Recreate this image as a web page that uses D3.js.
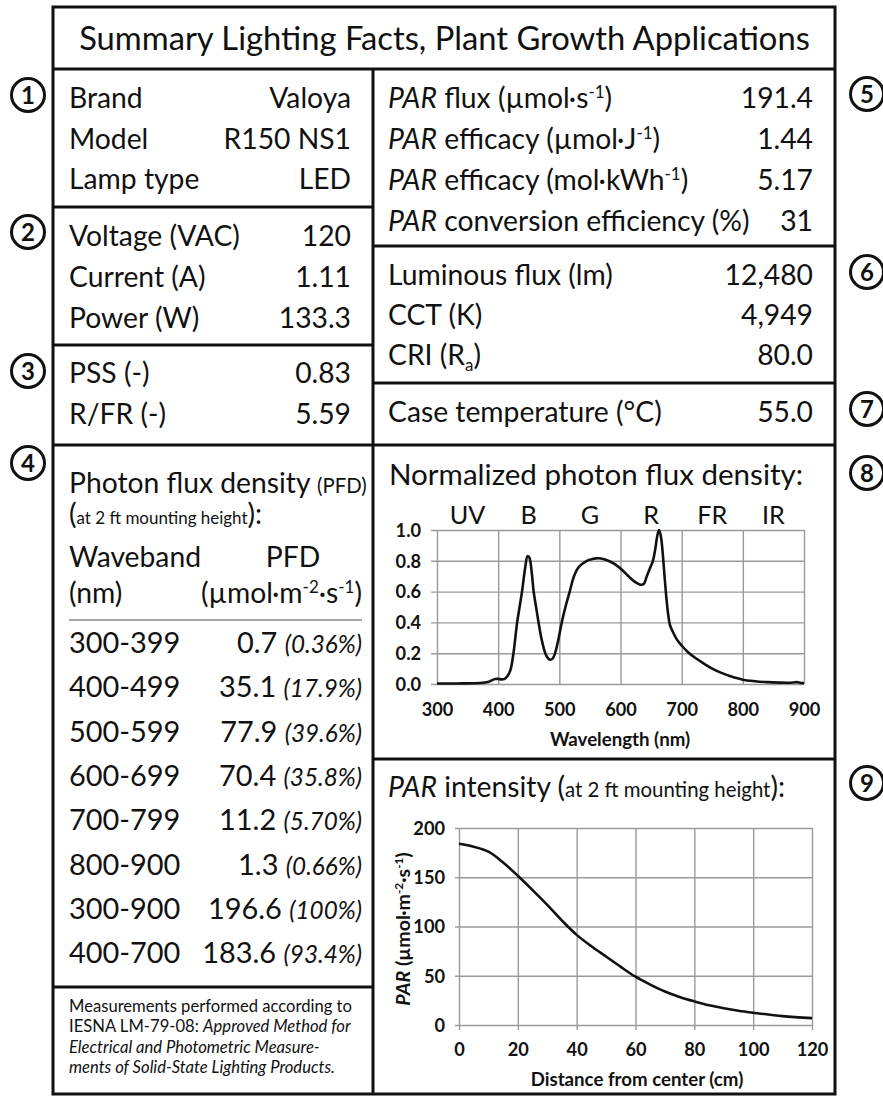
<!DOCTYPE html>
<html><head><meta charset="utf-8">
<script src="https://cdn.jsdelivr.net/npm/d3@7"></script>
<style>
body{margin:0;background:#fff}
svg{display:block}
text{font-family:Lato,'Open Sans',sans-serif;fill:#111}
</style>
</head><body><div id="chart"></div>
<script>
// ---------------- DATA ----------------
const titleText = "Summary Lighting Facts, Plant Growth Applications";
const sec1Labels = ["Brand", "Model", "Lamp type"];
const sec1Values = ["Valoya", "R150 NS1", "LED"];
const sec2Labels = ["Voltage (VAC)", "Current (A)", "Power (W)"];
const sec2Values = ["120", "1.11", "133.3"];
const sec3Labels = ["PSS (-)", "R/FR (-)"];
const sec3Values = ["0.83", "5.59"];
const sec5Labels = ["<i>PAR</i> flux (µmol·s<sup>-1</sup>)", "<i>PAR</i> efficacy (µmol·J<sup>-1</sup>)",
                    "<i>PAR</i> efficacy (mol·kWh<sup>-1</sup>)", "<i>PAR</i> conversion efficiency (%)"];
const sec5Values = ["191.4", "1.44", "5.17", "31"];
const sec6Labels = ["Luminous flux (lm)", "CCT (K)", "CRI (R<sub>a</sub>)"];
const sec6Values = ["12,480", "4,949", "80.0"];
const sec7Labels = ["Case temperature (°C)"];
const sec7Values = ["55.0"];
const wavebands = ["300-399", "400-499", "500-599", "600-699", "700-799", "800-900", "300-900", "400-700"];
const pfdValues = ["0.7", "35.1", "77.9", "70.4", "11.2", "1.3", "196.6", "183.6"];
const pfdPercents = ["(0.36%)", "(17.9%)", "(39.6%)", "(35.8%)", "(5.70%)", "(0.66%)", "(100%)", "(93.4%)"];
const footnoteLines = ["Measurements performed according to",
  "IESNA LM-79-08: <i>Approved Method for</i>",
  "<i>Electrical and Photometric Measure-</i>",
  "<i>ments of Solid-State Lighting Products.</i>"];
const circleNumbers = ["1", "2", "3", "4", "5", "6", "7", "8", "9"];

const bandLabels = ["UV", "B", "G", "R", "FR", "IR"];
const bandCenters = [350, 450, 550, 650, 750, 850];
const specTicksX = [300, 400, 500, 600, 700, 800, 900];
const specTicksY = [0, 0.2, 0.4, 0.6, 0.8, 1.0];
const specWavelength = [
  300, 320, 340, 360, 375, 385, 390, 395, 400, 405,
  410, 415, 420, 425, 431, 435, 439, 444, 448, 451,
  455, 458, 462, 466, 471, 477, 481, 485, 489, 493,
  498, 504, 510, 517, 524, 532, 545, 553, 560, 568,
  580, 590, 600, 613, 623, 633, 638, 643, 648, 653,
  657, 660, 663, 666, 669, 672, 675, 678, 681, 686,
  692, 700, 710, 722, 735, 750, 765, 780, 800, 820,
  840, 860, 875, 883, 888, 895, 900];
const specValue = [
  0.003, 0.003, 0.004, 0.005, 0.008, 0.015, 0.025, 0.032, 0.033, 0.030,
  0.032, 0.050, 0.090, 0.200, 0.400, 0.500, 0.600, 0.750, 0.830, 0.820,
  0.720, 0.600, 0.500, 0.400, 0.290, 0.200, 0.170, 0.158, 0.165, 0.200,
  0.280, 0.400, 0.500, 0.600, 0.700, 0.760, 0.800, 0.810, 0.816, 0.815,
  0.800, 0.780, 0.750, 0.700, 0.665, 0.645, 0.650, 0.700, 0.750, 0.800,
  0.880, 0.960, 1.000, 0.960, 0.850, 0.700, 0.560, 0.450, 0.380, 0.335,
  0.290, 0.250, 0.208, 0.170, 0.136, 0.100, 0.072, 0.050, 0.028, 0.018,
  0.012, 0.009, 0.008, 0.010, 0.012, 0.007, 0.006];

const parTicksX = [0, 20, 40, 60, 80, 100, 120];
const parTicksY = [0, 50, 100, 150, 200];
const parDistance = [0, 5, 10, 15, 20, 25, 30, 35, 40, 45, 50, 55, 60, 65, 70, 75, 80, 85, 90, 95, 100, 110, 120];
const parValue = [184, 181, 176, 165, 151.5, 137, 122, 106, 91.5, 80, 69.5, 59, 49, 41, 34, 28.5, 24, 20, 17, 14.5, 12.5, 9, 7];

// ---------------- RENDER ----------------
const W = 883, H = 1098;
const svg = d3.select("#chart").append("svg").attr("width", W).attr("height", H);

function measure(str, size, weight) {
  const t = svg.append("text").attr("font-size", size).attr("font-weight", weight || "normal").text(str);
  const w = t.node().getComputedTextLength();
  t.remove();
  return w;
}
const K = (171 / measure("Voltage (VAC)", 100)) * 100 / 30.3;
const fs = c => c * K;

function rich(sel, str, size, smF) {
  smF = smF || 0.72;
  const parts = str.split(/(<\/?(?:i|sup|sub|sm)>)/).filter(s => s.length);
  let italic = false, sup = false, sub = false, sm = false, shift = 0;
  parts.forEach(p => {
    const m = p.match(/^<(\/?)(i|sup|sub|sm)>$/);
    if (m) {
      const on = m[1] !== "/";
      if (m[2] === "i") italic = on;
      if (m[2] === "sup") sup = on;
      if (m[2] === "sub") sub = on;
      if (m[2] === "sm") sm = on;
      return;
    }
    let fsz = sm ? size * smF : size, target = 0;
    if (sup) { fsz = size * 0.6; target = -size * 0.36; }
    if (sub) { fsz = size * 0.6; target = size * 0.2; }
    const t = sel.append("tspan").text(p).attr("font-size", fsz);
    if (italic) t.attr("font-style", "italic");
    if (target !== shift) { t.attr("dy", target - shift); shift = target; }
  });
  return sel;
}
function label(x, y, str, size, anchor, extra, smF) {
  const t = svg.append("text").attr("x", x).attr("y", y).attr("font-size", size)
    .attr("text-anchor", anchor || "start");
  if (extra) extra(t);
  return rich(t, str, size, smF);
}

// frame
const L = 53, R = 835, T = 7, B = 1094, MID = 373, TL = 69;
const lineG = svg.append("g").attr("stroke", "#111").attr("stroke-width", 3).attr("fill", "none");
lineG.append("rect").attr("x", L).attr("y", T).attr("width", R - L).attr("height", B - T);
lineG.append("line").attr("x1", L).attr("x2", R).attr("y1", TL).attr("y2", TL);
lineG.append("line").attr("x1", MID).attr("x2", MID).attr("y1", TL).attr("y2", B);
[207, 345, 445, 987].forEach(y => lineG.append("line").attr("x1", L).attr("x2", MID).attr("y1", y).attr("y2", y));
[246, 383, 445, 759].forEach(y => lineG.append("line").attr("x1", MID).attr("x2", R).attr("y1", y).attr("y2", y));

// title (fit to width)
const tt = svg.append("text").attr("x", 444.5).attr("y", 50).attr("text-anchor", "middle").text(titleText);
tt.attr("font-size", 100);
tt.attr("font-size", 100 * 731 / tt.node().getComputedTextLength());

// circled numbers
const circlePos = [[28, 95], [28, 232], [28, 371], [28, 463], [867, 94], [867, 272], [867, 409], [867, 473], [867, 783]];
circleNumbers.forEach((n, i) => {
  const [cx, cy] = circlePos[i];
  svg.append("circle").attr("cx", cx).attr("cy", cy).attr("r", 16.5)
    .attr("fill", "#fff").attr("stroke", "#111").attr("stroke-width", 3);
  svg.append("text").attr("x", cx).attr("y", cy + 8.5).attr("text-anchor", "middle")
    .attr("font-size", 24).attr("font-weight", "bold").text(n);
});

const MAIN = fs(30.3);
function rows(labels, values, x1, x2, y0, step) {
  labels.forEach((l, i) => {
    label(x1, y0 + i * step, l, MAIN);
    label(x2, y0 + i * step, values[i], MAIN, "end");
  });
}
rows(sec1Labels, sec1Values, 69, 351, 108, 40.5);
rows(sec2Labels, sec2Values, 69, 351, 246, 41);
rows(sec3Labels, sec3Values, 69, 351, 383, 41);
rows(sec5Labels, sec5Values, 388, 813, 108, 41);
rows(sec6Labels, sec6Values, 388, 813, 285, 40);
rows(sec7Labels, sec7Values, 388, 813, 422, 40);

// section 4
label(69, 493, "Photon flux density <sm>(PFD)</sm>", MAIN);
label(69, 524, "(<sm>at 2 ft mounting height</sm>):", MAIN, "start", null, 0.6);
label(69, 567, "Waveband", MAIN);
label(293, 567, "PFD", MAIN, "middle");
label(69, 603, "(nm)", MAIN);
label(362, 603, "(µmol·m<sup>-2</sup>·s<sup>-1</sup>)", MAIN, "end");
svg.append("line").attr("x1", 69).attr("x2", 362).attr("y1", 620).attr("y2", 620)
  .attr("stroke", "#888").attr("stroke-width", 1.5);
wavebands.forEach((w, i) => {
  const y = 653 + i * 44.3;
  label(69, y, w, fs(31));
  const t = svg.append("text").attr("x", 362).attr("y", y).attr("text-anchor", "end");
  t.append("tspan").attr("font-size", fs(31)).text(pfdValues[i] + " ");
  t.append("tspan").attr("font-size", fs(26)).attr("font-style", "italic").text(pfdPercents[i]);
});
footnoteLines.forEach((f, i) => label(69, 1012 + i * 20.3, f, fs(17.8)));

// ---------- spectrum chart ----------
label(389, 485, "Normalized photon flux density:", MAIN * 1.045);
const TICKF = fs(19.5), AXF = fs(20);
const sx = d3.scaleLinear().domain([300, 900]).range([437, 804]);
const sy = d3.scaleLinear().domain([0, 1]).range([684, 530]);
const sg = svg.append("g");
const sxAxis = sg.append("g").attr("transform", `translate(0,${sy(0)})`)
  .call(d3.axisBottom(sx).tickValues(specTicksX).tickSize(-(sy(0) - sy(1))).tickSizeOuter(0).tickFormat(d3.format("d")));
const syAxis = sg.append("g").attr("transform", `translate(${sx(300)},0)`)
  .call(d3.axisLeft(sy).tickValues(specTicksY).tickSize(-(sx(900) - sx(300))).tickSizeOuter(0).tickFormat(d3.format(".1f")));
function styleAxis(g, tickFont) {
  g.select(".domain").remove();
  g.selectAll("line").attr("stroke", "#9a9a9a").attr("stroke-width", 1.4);
  g.selectAll("text").attr("font-family", "Lato,'Open Sans',sans-serif").attr("font-size", tickFont)
    .attr("font-weight", "bold").attr("fill", "#111");
}
styleAxis(sxAxis, TICKF);
styleAxis(syAxis, TICKF);
sxAxis.selectAll("text").attr("y", 32).attr("dy", 0);
syAxis.selectAll("line").attr("x1", -6);
syAxis.selectAll("text").attr("x", -16).attr("dy", "0.35em");
label(620, 746, "Wavelength (nm)", AXF, "middle", t => t.attr("font-weight", "bold"));
bandLabels.forEach((b, i) => label(sx(bandCenters[i]), 524, b, fs(27), "middle"));
const specLine = d3.line().x((d, i) => sx(specWavelength[i])).y((d, i) => sy(specValue[i])).curve(d3.curveCatmullRom.alpha(0.5));
sg.append("path").datum(specValue).attr("d", specLine).attr("fill", "none")
  .attr("stroke", "#111").attr("stroke-width", 2.6).attr("stroke-linejoin", "round");

// ---------- PAR chart ----------
label(388, 797, "<i>PAR</i> intensity (<sm>at 2 ft mounting height</sm>):", MAIN);
const px = d3.scaleLinear().domain([0, 120]).range([459, 812]);
const py = d3.scaleLinear().domain([0, 200]).range([1025, 828]);
const pg = svg.append("g");
const pxAxis = pg.append("g").attr("transform", `translate(0,${py(0)})`)
  .call(d3.axisBottom(px).tickValues(parTicksX).tickSize(-(py(0) - py(200))).tickSizeOuter(0));
const pyAxis = pg.append("g").attr("transform", `translate(${px(0)},0)`)
  .call(d3.axisLeft(py).tickValues(parTicksY).tickSize(-(px(120) - px(0))).tickSizeOuter(0));
styleAxis(pxAxis, TICKF);
styleAxis(pyAxis, TICKF);
pxAxis.selectAll("line").attr("y1", 5);
pxAxis.selectAll("text").attr("y", 31).attr("dy", 0);
pyAxis.selectAll("line").attr("x1", -4);
pyAxis.selectAll("text").attr("x", -14).attr("dy", "0.35em");
label(637, 1086, "Distance from center (cm)", AXF, "middle", t => t.attr("font-weight", "bold"));
label(0, 0, "<i>PAR</i> (µmol·m<sup>-2</sup>·s<sup>-1</sup>)", fs(21), "middle",
  t => t.attr("font-weight", "bold").attr("transform", "translate(410,929) rotate(-90)"));
const parLine = d3.line().x((d, i) => px(parDistance[i])).y((d, i) => py(parValue[i])).curve(d3.curveCatmullRom.alpha(0.5));
pg.append("path").datum(parValue).attr("d", parLine).attr("fill", "none")
  .attr("stroke", "#111").attr("stroke-width", 2.6);
</script>
</body></html>
